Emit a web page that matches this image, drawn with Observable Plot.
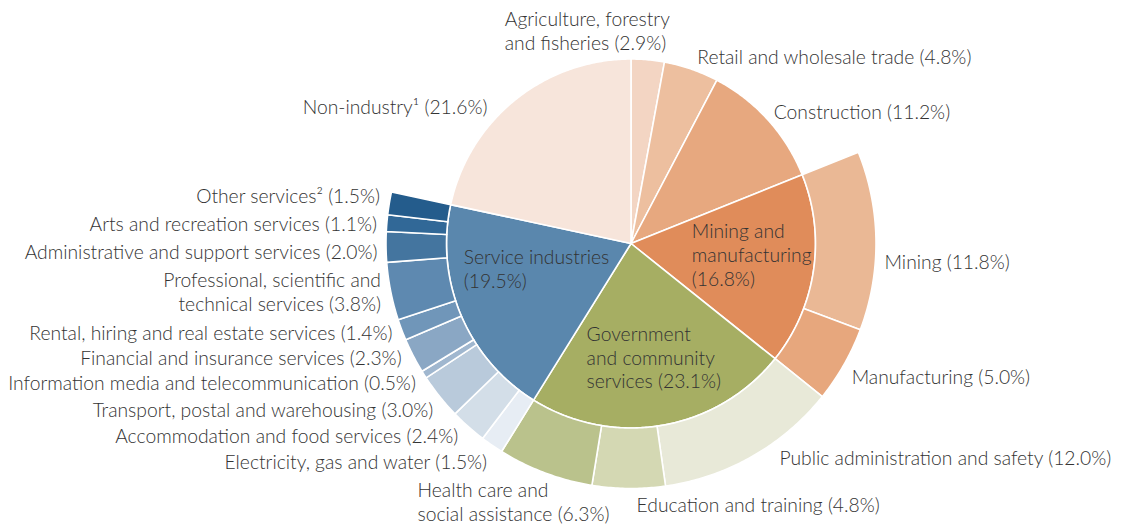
<!DOCTYPE html>
<html><head><meta charset="utf-8">
<script src="https://cdn.jsdelivr.net/npm/d3@7"></script>
<script src="https://cdn.jsdelivr.net/npm/@observablehq/plot@0.6"></script>
<style>body{margin:0;background:#fff} svg{display:block}</style>
</head><body><div id="chart"></div>
<script>
// ---------- DATA ----------
const topNames = ["Agriculture, forestry\nand fisheries", "Retail and wholesale trade", "Construction", "Mining and\nmanufacturing\n", "Government\nand community\nservices ", "Service industries\n", "Non-industry\u00B9"];
const topValues = [2.9, 4.8, 11.2, 16.8, 23.1, 19.5, 21.6];
const topColors = ["#f3d5c3", "#edbf9f", "#e7a87f", "#e08c5a", "#a6ae63", "#5a87ad", "#f7e5db"];

const miningNames = ["Mining", "Manufacturing"];
const miningValues = [11.8, 5.0];
const miningColors = ["#eab895", "#e7a77d"];

const govNames = ["Public administration and safety", "Education and training", "Health care and\nsocial assistance"];
const govValues = [12.0, 4.8, 6.3];
const govColors = ["#e8e9d8", "#d4d8b3", "#bac28c"];

const serviceNames = ["Electricity, gas and water", "Accommodation and food services", "Transport, postal and warehousing", "Information media and telecommunication", "Financial and insurance services", "Rental, hiring and real estate services", "Professional, scientific and\ntechnical services", "Administrative and support services", "Arts and recreation services", "Other services\u00B2"];
const serviceValues = [1.5, 2.4, 3.0, 0.5, 2.3, 1.4, 3.8, 2.0, 1.1, 1.5];
const serviceColors = ["#e7edf4", "#d3dee8", "#b9cadb", "#a0b7cf", "#8aa7c4", "#7096b9", "#5e89b0", "#44759f", "#316897", "#245c8c"];

// ---------- LAYOUT ----------
const W = 1125, H = 527;
const cx = 630.5, cy = 243, rPie = 184.5, rRing = 245;
const labelShiftY = -2;
// label nudges (px) relative to the polar anchor point of each slice
const nudge = {
  "Agriculture, forestry\nand fisheries": [-144, -17],
  "Retail and wholesale trade": [2.5, -1],
  "Construction": [-2, 0],
  "Non-industry\u00B9": [-21, 17],
  "Mining and\nmanufacturing\n": [-48, -3],
  "Government\nand community\nservices ": [-63, 7],
  "Service industries\n": [-66, -16],
  "Mining": [-1.5, 23],
  "Manufacturing": [-1, 9],
  "Public administration and safety": [22, -6],
  "Education and training": [8, 8],
  "Health care and\nsocial assistance": [-124, 21],
  "Electricity, gas and water": [2, 8],
  "Accommodation and food services": [-2, 2],
  "Transport, postal and warehousing": [3, 7],
  "Information media and telecommunication": [2, 3],
  "Financial and insurance services": [-1, -2],
  "Rental, hiring and real estate services": [2, 0],
  "Professional, scientific and\ntechnical services": [2, 0],
  "Administrative and support services": [3.5, 6],
  "Arts and recreation services": [2, 3],
  "Other services\u00B2": [2.5, -4]
};

const total = d3.sum(topValues);
const ang = f => f / total * 2 * Math.PI;
const polar = (a, r) => [cx + r * Math.sin(a), cy - r * Math.cos(a)];

const shapes = [];
const labels = [];
let id = 0;
function wedge(f0, f1, r0, r1, color) {
  const a0 = ang(f0), a1 = ang(f1);
  const n = Math.max(4, Math.ceil((a1 - a0) / 0.01));
  const pts = [];
  for (let i = 0; i <= n; i++) pts.push(polar(a0 + (a1 - a0) * i / n, r1));
  if (r0 === 0) pts.push([cx, cy]);
  else for (let i = n; i >= 0; i--) pts.push(polar(a0 + (a1 - a0) * i / n, r0));
  pts.push(pts[0]);
  const k = id++;
  for (const [x, y] of pts) shapes.push({id: k, x, y, color});
}
function addLabel(name, value, fmid, r, anchor) {
  const [x, y] = polar(ang(fmid), r);
  const [dx, dy] = nudge[name] || [0, 0];
  const sep = name.endsWith("\n") || name.endsWith(" ") ? "" : " ";
  labels.push({x: x + dx, y: y + dy + labelShiftY, text: name + sep + "(" + value.toFixed(1) + "%)", anchor});
}

const subs = {3: [miningNames, miningValues, miningColors], 4: [govNames, govValues, govColors], 5: [serviceNames, serviceValues, serviceColors]};
let acc = 0;
topValues.forEach((v, i) => {
  const f0 = acc, f1 = acc + v;
  wedge(f0, f1, 0, rPie, topColors[i]);
  if (subs[i]) {
    addLabel(topNames[i], v, (f0 + f1) / 2, 110, "start");
    const [nm, vals, cols] = subs[i];
    let a2 = f0;
    vals.forEach((sv, j) => {
      wedge(a2, a2 + sv, rPie, rRing, cols[j]);
      addLabel(nm[j], sv, a2 + sv / 2, i === 5 ? 257 : 255, i === 5 ? "end" : "start");
      a2 += sv;
    });
  } else {
    addLabel(topNames[i], v, (f0 + f1) / 2, 195, i === 6 ? "end" : "start");
  }
  acc = f1;
});

const textOpts = {x: "x", y: "y", text: "text", fontFamily: "Lato", fontSize: 19.3, fontWeight: 300, fill: "#333333", lineHeight: 1.24, lineAnchor: "middle"};
const chart = Plot.plot({
  width: W, height: H, margin: 0,
  x: {domain: [0, W], range: [0, W], axis: null},
  y: {domain: [0, H], range: [0, H], axis: null},
  color: {type: "identity"},
  marks: [
    Plot.line(shapes, {x: "x", y: "y", z: "id", fill: "color", stroke: "white", strokeWidth: 1.6, strokeLinejoin: "round", curve: "linear"}),
    Plot.text(labels.filter(d => d.anchor === "start"), {...textOpts, textAnchor: "start"}),
    Plot.text(labels.filter(d => d.anchor === "end"), {...textOpts, textAnchor: "end"})
  ]
});
document.getElementById("chart").append(chart);
</script>
</body></html>
